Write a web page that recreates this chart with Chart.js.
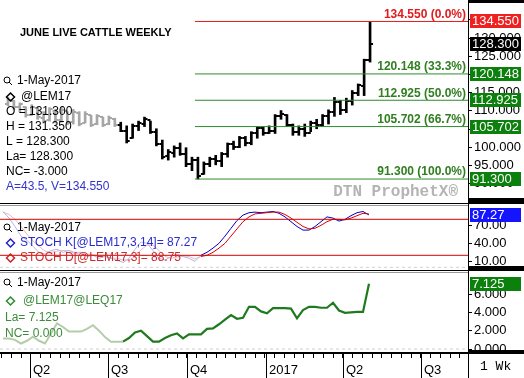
<!DOCTYPE html>
<html lang="en">
<head>
<meta charset="UTF-8" />
<title>June Live Cattle Weekly</title>
<script src="https://cdn.jsdelivr.net/npm/chart.js"></script>
<style>
  body { margin: 0; background: #fff; }
  #wrap { position: relative; width: 524px; height: 378px; overflow: hidden; background: #fff; }
  #wrap canvas { position: absolute; left: 0; }
  .rule { position: absolute; }
</style>
</head>
<body>
<div id="wrap">
  <canvas id="priceChart" width="524" height="204" style="top:0"></canvas>
  <canvas id="stochChart" width="524" height="67" style="top:204px"></canvas>
  <canvas id="spreadChart" width="524" height="107" style="top:271px"></canvas>
  <div class="rule" style="left:0;top:203px;width:524px;height:1px;background:#000"></div>
  <div class="rule" style="left:0;top:205px;width:468px;height:1px;background:#999"></div>
  <div class="rule" style="left:0;top:270px;width:524px;height:1px;background:#000"></div>
  <div class="rule" style="left:0;top:272px;width:468px;height:1px;background:#999"></div>
  <div class="rule" style="left:468px;top:0;width:56px;height:3px;background:#000"></div>
  <div class="rule" style="left:468px;top:198px;width:56px;height:5px;background:#000"></div>
  <div class="rule" style="left:468px;top:266px;width:56px;height:5px;background:#000"></div>
  <div class="rule" style="left:468px;top:350px;width:56px;height:4px;background:#000"></div>
  <div class="rule" style="left:468px;top:0;width:1px;height:378px;background:#000"></div>
</div>

<script>
// weekly bars, one per week (Mondays)
const weeks = [
  '2016-02-29','2016-03-07','2016-03-14','2016-03-21','2016-03-28','2016-04-04','2016-04-11','2016-04-18',
  '2016-04-25','2016-05-02','2016-05-09','2016-05-16','2016-05-23','2016-05-30','2016-06-06','2016-06-13',
  '2016-06-20','2016-06-27','2016-07-04','2016-07-11','2016-07-18','2016-07-25','2016-08-01','2016-08-08',
  '2016-08-15','2016-08-22','2016-08-29','2016-09-05','2016-09-12','2016-09-19','2016-09-26','2016-10-03',
  '2016-10-10','2016-10-17','2016-10-24','2016-10-31','2016-11-07','2016-11-14','2016-11-21','2016-11-28',
  '2016-12-05','2016-12-12','2016-12-19','2016-12-26','2017-01-02','2017-01-09','2017-01-16','2017-01-23',
  '2017-01-30','2017-02-06','2017-02-13','2017-02-20','2017-02-27','2017-03-06','2017-03-13','2017-03-20',
  '2017-03-27','2017-04-03','2017-04-10','2017-04-17','2017-04-24','2017-05-01'
];
const highs = [113.7,112.9,112.2,111.1,111.7,110.9,109.8,110.9,110.4,110.9,109.8,110.4,109.8,109.8,108.8,109.0,
  108.3,108.6,108.0,106.9,105.9,106.4,107.2,108.3,107.2,105.1,102.0,99.4,100.4,101.2,99.9,97.3,
  97.3,96.0,97.3,97.8,98.6,101.2,101.7,103.0,103.0,104.3,105.6,105.6,105.9,109.0,110.1,109.0,
  106.4,105.9,106.4,107.2,107.7,109.0,110.3,113.7,112.9,113.5,115.6,117.4,124.2,134.55];
const lows = [111.4,110.4,109.8,108.3,108.8,107.7,106.7,107.2,106.7,106.9,106.2,106.4,105.9,106.7,105.7,106.2,
  105.7,106.2,105.7,104.3,101.2,102.5,104.6,105.7,103.8,100.4,96.8,96.5,97.3,97.8,94.7,93.6,
  91.3,92.6,94.7,95.2,94.7,97.3,99.4,99.9,100.4,100.7,102.5,103.3,103.8,103.8,107.7,105.7,
  103.3,103.3,103.0,104.3,105.1,105.7,106.4,108.5,109.0,109.5,111.6,114.2,114.2,123.4];
const opens = [112.0,112.8,111.0,111.0,109.0,110.8,108.0,107.5,110.0,107.5,110.0,107.0,109.5,106.8,109.0,106.5,
  108.2,106.5,107.8,106.2,104.6,102.5,105.8,106.5,107.5,104.2,100.8,97.5,98.5,99.8,98.2,95.3,
  96.5,92.8,95.5,96.8,96.2,98.2,100.8,100.2,102.6,101.2,104.0,105.2,104.0,104.5,108.6,109.0,
  106.0,104.2,105.0,104.0,106.8,106.0,108.6,109.8,112.5,110.2,112.8,115.0,116.8,124.0];
const closes = [113.0,111.0,111.8,108.8,111.2,108.2,107.2,110.5,107.5,110.2,106.8,109.8,106.4,109.2,106.0,108.5,
  106.2,108.0,106.0,104.6,101.8,105.8,106.6,107.8,104.2,100.8,97.3,98.8,99.8,98.2,95.3,96.5,
  92.0,95.5,96.8,96.2,98.2,100.8,100.2,102.6,101.2,104.0,105.2,104.0,104.5,108.6,109.2,106.0,
  104.2,105.0,104.0,106.8,106.0,108.6,109.8,112.5,110.2,112.8,115.0,117.0,124.0,128.3];
const activeFrom = 19;          // earlier bars are drawn greyed out

const stochK = [93,82,68,52,45,35,25,22,28,30,25,28,22,25,18,20,
  15,18,15,12,8,15,30,42,40,28,15,12,18,22,18,15,
  10,20,25,32,40,52,65,78,87,91,92,91,92,93,90,84,
  76,68,62,62,68,76,84,82,77,80,86,91,93,87.27];
const stochD = [92,88,80,68,55,44,35,27,25,27,28,28,25,25,22,21,
  18,18,16,15,12,12,18,29,37,37,28,18,15,17,19,18,
  14,18,20,25,32,40,52,64,76,84,89,90,91,92,92,88,
  82,75,68,64,65,70,76,80,80,79,82,86,90,88.75];
const stochFrom = 33;
const stochBands = [80, 20];

const spread = [1.15,1.15,1.0,0.6,0.9,1.35,0.9,0.6,1.7,2.8,2.4,1.9,1.9,1.9,2.2,2.6,
  2.0,1.3,0.8,0.8,0.8,1.2,1.8,2.0,1.4,0.8,0.8,1.2,1.5,1.7,1.15,1.6,
  1.6,1.6,2.2,2.25,2.7,3.2,3.7,3.3,3.4,4.6,4.6,4.1,3.9,4.45,4.45,4.45,
  4.4,3.35,4.25,4.6,4.6,4.5,4.5,5.05,4.2,3.95,4.0,4.05,4.05,7.125];
const spreadFrom = 20;

const fibLevels = [134.550, 120.148, 112.925, 105.702, 91.300];
const fibPcts = ['0.0%', '33.3%', '50.0%', '66.7%', '100.0%'];
const fibStartWeek = 32;
const lastPrice = 128.300;

const priceTicks = [90, 95, 100, 105, 110, 115, 120, 125, 130, 135];
const stochTicks = [10, 40, 70];
const spreadTicks = [0, 2, 4, 6];

const quarterDates = ['2016-04-01','2016-07-01','2016-10-01','2017-01-01','2017-04-01','2017-07-01'];
const quarterLabels = ['Q2','Q3','Q4','2017','Q2','Q3'];

const FONT = "'Liberation Sans', Arial, sans-serif";
const GREY = '#a6a6a6';
const RED = '#e01b1b';
const GREEN_LINE = '#2e8b2e';
const GREEN_TEXT = '#2f7f1f';
const GREEN_BOX = '#0c800c';
const X_MIN = -0.5, X_MAX = 77.5;

Chart.defaults.font.family = FONT;
Chart.defaults.font.size = 13;
Chart.defaults.color = '#000';
Chart.defaults.animation = false;
Chart.defaults.responsive = false;
Chart.defaults.plugins.legend.display = false;
Chart.defaults.plugins.tooltip.enabled = false;

function rightAxis(min, max, ticks, digits) {
  return {
    position: 'right', min: min, max: max,
    afterFit: s => { s.width = 56; s.paddingTop = 0; s.paddingBottom = 0; },
    afterBuildTicks: s => { s.ticks = ticks.map(v => ({ value: v })); },
    ticks: { autoSkip: false, padding: 2, color: '#000', font: { size: 13 }, callback: v => v.toFixed(digits) },
    grid: { drawOnChartArea: false, tickLength: 4, color: '#000' },
    border: { display: true, color: '#000', width: 1 }
  };
}
const hiddenX = () => ({ type: 'linear', display: false, min: X_MIN, max: X_MAX, offset: false });

function txt(ctx, s, x, y, color, font, align) {
  ctx.fillStyle = color;
  ctx.font = font || ('12px ' + FONT);
  ctx.textAlign = align || 'left';
  ctx.textBaseline = 'middle';
  ctx.fillText(s, x, y);
}
function magnifier(ctx, x, y) {
  ctx.strokeStyle = '#000'; ctx.lineWidth = 1;
  ctx.beginPath(); ctx.arc(x, y, 3, 0, Math.PI * 2); ctx.stroke();
  ctx.beginPath(); ctx.moveTo(x + 2, y + 2); ctx.lineTo(x + 5, y + 5); ctx.stroke();
}
function diamond(ctx, x, y, color) {
  ctx.strokeStyle = color; ctx.lineWidth = 1.5;
  ctx.beginPath(); ctx.moveTo(x, y - 4); ctx.lineTo(x + 4, y); ctx.lineTo(x, y + 4); ctx.lineTo(x - 4, y); ctx.closePath(); ctx.stroke();
}
function valueBox(ctx, scale, v, label, bg) {
  const y = Math.round(scale.getPixelForValue(v));
  ctx.fillStyle = bg;
  ctx.fillRect(470, y - 7, 51, 14);
  txt(ctx, label, 472, y, '#fff', '13px ' + FONT);
}
function tickImage(side, color) {
  const c = document.createElement('canvas');
  c.width = 8; c.height = 2;
  const g = c.getContext('2d');
  g.fillStyle = color;
  g.fillRect(side === 'left' ? 1 : 4, 0, 3, 2);
  return c;
}
const openBlack = tickImage('left', '#000'), openGrey = tickImage('left', GREY);
const closeBlack = tickImage('right', '#000'), closeGrey = tickImage('right', GREY);

// ---------- price panel ----------
const pricePlugin = {
  id: 'priceDecor',
  beforeDatasetsDraw(chart) {
    txt(chart.ctx, 'DTN ProphetX\u00ae', 458, 192, '#b4b4b4', 'bold 16px "Liberation Mono", monospace', 'right');
  },
  afterDraw(chart) {
    const ctx = chart.ctx, y = chart.scales.y;
    ctx.save();
    txt(ctx, 'JUNE LIVE CATTLE WEEKLY', 20, 33, '#000', 'bold 11px ' + FONT);
    fibLevels.forEach((lvl, i) => {
      const py = y.getPixelForValue(lvl);
      txt(ctx, lvl.toFixed(3) + ' (' + fibPcts[i] + ')', 466, py - 7, i === 0 ? RED : GREEN_TEXT, 'bold 12px ' + FONT, 'right');
    });
    magnifier(ctx, 7, 80);
    txt(ctx, '1-May-2017', 17, 81, '#000');
    diamond(ctx, 10.5, 97, '#000');
    txt(ctx, '@LEM17', 21, 97, '#000');
    txt(ctx, 'O = 131.300', 6, 112, '#000');
    txt(ctx, 'H = 131.350', 6, 127, '#000');
    txt(ctx, 'L = 128.300', 6, 142, '#000');
    txt(ctx, 'La= 128.300', 6, 157, '#000');
    txt(ctx, 'NC= -3.000', 6, 172, '#000');
    txt(ctx, 'A=43.5, V=134.550', 6, 187, '#3333cc');
    fibLevels.forEach((lvl, i) => valueBox(ctx, y, lvl, lvl.toFixed(3), i === 0 ? '#ee2020' : GREEN_BOX));
    valueBox(ctx, y, lastPrice, lastPrice.toFixed(3), '#000');
    ctx.restore();
  }
};

new Chart(document.getElementById('priceChart'), {
  type: 'scatter',
  data: {
    datasets: [
      ...fibLevels.map((lvl, i) => ({
        type: 'line', data: [{ x: fibStartWeek - 0.5, y: lvl }, { x: X_MAX, y: lvl }],
        borderColor: i === 0 ? RED : GREEN_LINE, borderWidth: 1, pointRadius: 0
      })),
      {
        type: 'bar',
        data: weeks.map((d, i) => ({ x: i, y: [lows[i], highs[i]] })),
        backgroundColor: c => c.dataIndex < activeFrom ? GREY : '#000',
        barThickness: 2, borderWidth: 0, borderSkipped: false
      },
      {
        data: weeks.map((d, i) => ({ x: i, y: opens[i] })),
        pointStyle: c => c.dataIndex < activeFrom ? openGrey : openBlack, pointRadius: 3
      },
      {
        data: weeks.map((d, i) => ({ x: i, y: closes[i] })),
        pointStyle: c => c.dataIndex < activeFrom ? closeGrey : closeBlack, pointRadius: 3
      }
    ]
  },
  options: {
    layout: { padding: 0 },
    scales: { x: hiddenX(), y: rightAxis(85.82, 139.07, priceTicks, 3) }
  },
  plugins: [pricePlugin]
});

// ---------- stochastic panel ----------
const stochPlugin = {
  id: 'stochDecor',
  afterDraw(chart) {
    const ctx = chart.ctx;
    ctx.save();
    magnifier(ctx, 7, 23);
    txt(ctx, '1-May-2017', 17, 24, '#000');
    diamond(ctx, 10.5, 39, '#2222cc');
    txt(ctx, 'STOCH K[@LEM17,3,14]= 87.27', 20, 39, '#2a2ad0');
    diamond(ctx, 10.5, 54, '#cc2222');
    txt(ctx, 'STOCH D[@LEM17,3]= 88.75', 20, 54, '#d02a2a');
    valueBox(ctx, chart.scales.y, stochK[stochK.length - 1], stochK[stochK.length - 1].toFixed(2), '#1414ff');
    ctx.restore();
  }
};
const pts = (arr, from, to) => arr.map((v, i) => ({ x: i, y: v })).slice(from, to);
new Chart(document.getElementById('stochChart'), {
  type: 'line',
  data: {
    datasets: [
      { data: [{ x: X_MIN, y: 0 }, { x: X_MAX, y: 0 }], borderColor: '#cfcfcf', borderWidth: 1, borderDash: [3, 3] },
      ...stochBands.map(b => ({ data: [{ x: X_MIN, y: b }, { x: X_MAX, y: b }], borderColor: '#d40000', borderWidth: 1 })),
      { data: pts(stochK, 0, stochFrom + 1), borderColor: '#b4b4ee', borderWidth: 1 },
      { data: pts(stochD, 0, stochFrom + 1), borderColor: '#eeb8b8', borderWidth: 1 },
      { data: pts(stochD, stochFrom), borderColor: '#dd0000', borderWidth: 1 },
      { data: pts(stochK, stochFrom), borderColor: '#0000cc', borderWidth: 1 }
    ]
  },
  options: {
    elements: { point: { radius: 0 }, line: { tension: 0 } },
    scales: { x: hiddenX(), y: rightAxis(-6.17, 105.5, stochTicks, 2) }
  },
  plugins: [stochPlugin]
});

// ---------- spread panel + time axis ----------
const spreadPlugin = {
  id: 'spreadDecor',
  afterDraw(chart) {
    const ctx = chart.ctx, area = chart.chartArea, x = chart.scales.x;
    ctx.save();
    magnifier(ctx, 7, 11);
    txt(ctx, '1-May-2017', 17, 12, '#000');
    diamond(ctx, 10.5, 30, '#2f8a2f');
    txt(ctx, '@LEM17@LEQ17', 23, 30, '#3b8b3b');
    txt(ctx, 'La= 7.125', 5, 47, '#3b8b3b');
    txt(ctx, 'NC= 0.000', 5, 63, '#3b8b3b');
    valueBox(ctx, chart.scales.y, spread[spread.length - 1], spread[spread.length - 1].toFixed(3), GREEN_BOX);

    // time axis
    const t0 = Date.parse(weeks[0]);
    const toWeek = d => (Date.parse(d) - t0) / (7 * 864e5);
    const yb = area.bottom;
    ctx.fillStyle = '#000';
    ctx.fillRect(0, yb - 2, 468, 2);
    const qw = quarterDates.map(toWeek);
    const step = (qw[1] - qw[0]) / 8;
    for (let w = qw[0] - 3 * step; w < X_MAX; w += step) {
      const px = Math.round(x.getPixelForValue(w));
      if (px >= 0 && px < 468) ctx.fillRect(px, yb, 1, 4);
    }
    qw.forEach((w, i) => {
      const px = Math.round(x.getPixelForValue(w));
      ctx.fillStyle = '#000';
      ctx.fillRect(px, yb, 1, 24);
      txt(ctx, quarterLabels[i], px + 3, yb + 16, '#000', '13px ' + FONT);
    });
    txt(ctx, '1 Wk', 480, yb + 13, '#000', '13px "Liberation Mono", monospace');
    ctx.restore();
  }
};
new Chart(document.getElementById('spreadChart'), {
  type: 'line',
  data: {
    datasets: [
      { data: [{ x: X_MIN, y: 0 }, { x: X_MAX, y: 0 }], borderColor: '#cfcfcf', borderWidth: 1, borderDash: [3, 3] },
      { data: pts(spread, 0, spreadFrom + 1), borderColor: '#b3cdaa', borderWidth: 2 },
      { data: pts(spread, spreadFrom), borderColor: '#1f7a1f', borderWidth: 2.2 }
    ]
  },
  options: {
    layout: { padding: { bottom: 24 } },
    elements: { point: { radius: 0 }, line: { tension: 0 } },
    scales: { x: hiddenX(), y: rightAxis(-0.545, 8.51, spreadTicks, 3) }
  },
  plugins: [spreadPlugin]
});
</script>
</body>
</html>
